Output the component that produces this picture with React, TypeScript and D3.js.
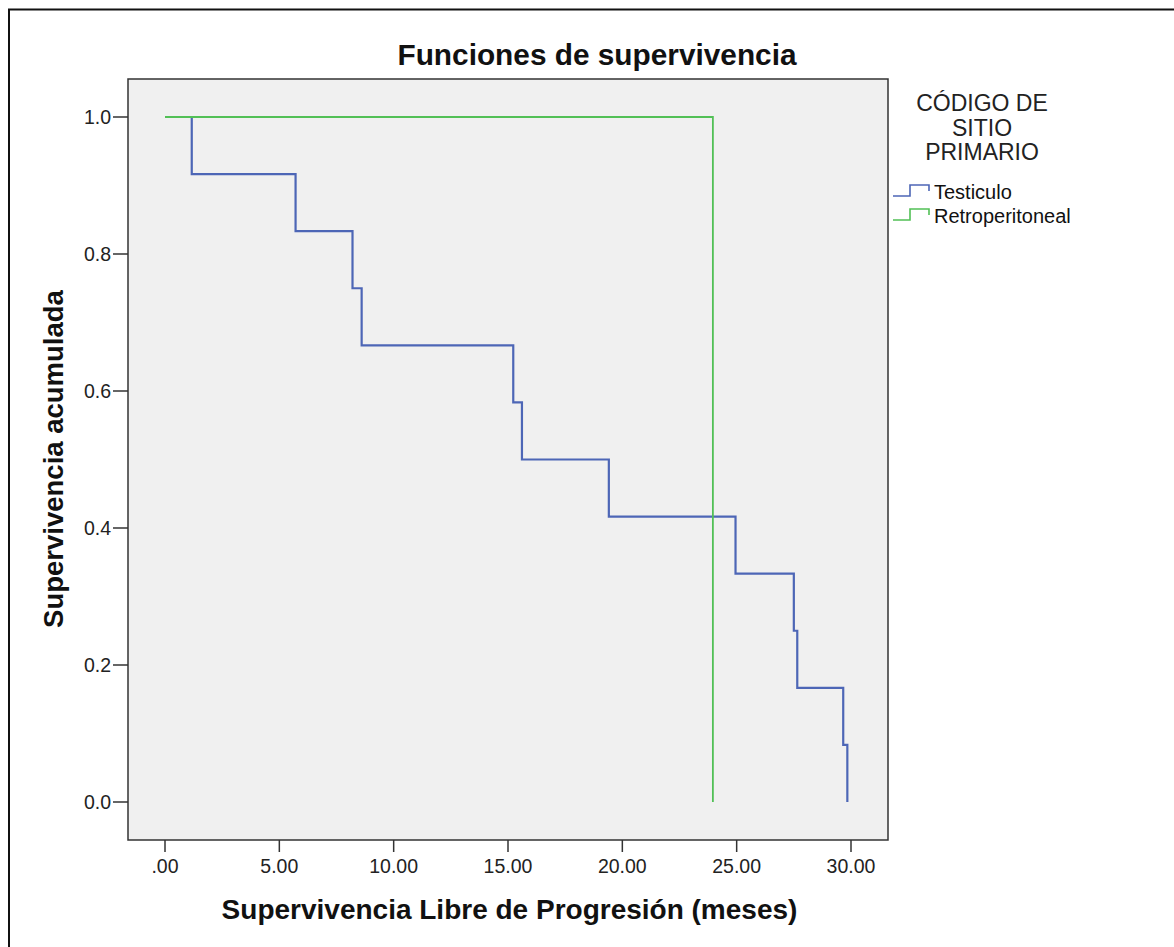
import React from "react";
import * as d3 from "d3";

const testiculoTimes = [0, 1.17, 5.71, 8.2, 8.6, 15.23, 15.61, 19.41, 24.95, 27.5, 27.65, 29.66, 29.84];
const testiculoSurv = [1, 0.9167, 0.8333, 0.75, 0.6667, 0.5833, 0.5, 0.4167, 0.3333, 0.25, 0.1667, 0.0833, 0];
const retroTimes = [0, 23.96];
const retroSurv = [1, 0];
const xTicks = [0, 5, 10, 15, 20, 25, 30];
const yTicks = [0, 0.2, 0.4, 0.6, 0.8, 1.0];
const seriesNames = ["Testiculo", "Retroperitoneal"];
const seriesColors = ["#4d66b6", "#52c056"];
const legendTitle = ["CÓDIGO DE", "SITIO", "PRIMARIO"];

const W = 1174;
const H = 947;
const FONT = "'Liberation Sans', Arial, sans-serif";

export default function App() {
  const x = d3.scaleLinear().domain([0, 30]).range([165, 851]);
  const y = d3.scaleLinear().domain([0, 1]).range([802, 117]);
  const plot = { x0: 128, x1: 888, y0: 79, y1: 840 };

  const line = d3
    .line<[number, number]>()
    .x((d) => x(d[0]))
    .y((d) => y(d[1]))
    .curve(d3.curveStepAfter);

  const testPts = testiculoTimes.map((t, i) => [t, testiculoSurv[i]] as [number, number]);
  const retroPts = retroTimes.map((t, i) => [t, retroSurv[i]] as [number, number]);

  const iconPath = (yy: number) =>
    `M893,${yy + 4} L910,${yy + 4} L910,${yy - 7} L929,${yy - 7} L929,${yy - 1}`;

  return (
    <svg
      width={W}
      height={H}
      style={{ position: "absolute", left: 0, top: 0, background: "#fff" }}
      fontFamily={FONT}
    >
      <rect x={9} y={9.5} width={1300} height={1100} fill="#fff" stroke="#111" strokeWidth={2} />
      <text x={597} y={65} textAnchor="middle" fontSize={29.8} fontWeight="bold" fill="#111">
        Funciones de supervivencia
      </text>
      <rect
        x={plot.x0}
        y={plot.y0}
        width={plot.x1 - plot.x0}
        height={plot.y1 - plot.y0}
        fill="#f0f0f0"
        stroke="#333"
        strokeWidth={1.5}
      />
      {yTicks.map((t) => (
        <g key={"y" + t}>
          <line x1={113} x2={plot.x0} y1={y(t)} y2={y(t)} stroke="#333" strokeWidth={1.5} />
          <text x={111} y={y(t)} dy="0.35em" textAnchor="end" fontSize={19.5} fill="#222">
            {t.toFixed(1)}
          </text>
        </g>
      ))}
      {xTicks.map((t) => (
        <g key={"x" + t}>
          <line x1={x(t)} x2={x(t)} y1={plot.y1} y2={852} stroke="#333" strokeWidth={1.5} />
          <text x={x(t)} y={873} textAnchor="middle" fontSize={19.5} fill="#222">
            {t === 0 ? ".00" : t.toFixed(2)}
          </text>
        </g>
      ))}
      <path d={line(testPts) || ""} fill="none" stroke={seriesColors[0]} strokeWidth={2.2} />
      <path d={line(retroPts) || ""} fill="none" stroke={seriesColors[1]} strokeWidth={1.8} />
      <text x={509.5} y={919} textAnchor="middle" fontSize={28} fontWeight="bold" fill="#111">
        Supervivencia Libre de Progresión (meses)
      </text>
      <text
        transform={`translate(63,459) rotate(-90)`}
        textAnchor="middle"
        fontSize={27.5}
        fontWeight="bold"
        fill="#111"
      >
        Supervivencia acumulada
      </text>
      {legendTitle.map((s, i) => (
        <text key={s} x={982} y={111 + i * 24.5} textAnchor="middle" fontSize={23} fill="#222">
          {s}
        </text>
      ))}
      {seriesNames.map((s, i) => (
        <g key={s}>
          <path d={iconPath(192 + i * 24)} fill="none" stroke={seriesColors[i]} strokeWidth={1.6} />
          <text x={934} y={192 + i * 24} dy="0.35em" fontSize={20} fill="#111">
            {s}
          </text>
        </g>
      ))}
    </svg>
  );
}
